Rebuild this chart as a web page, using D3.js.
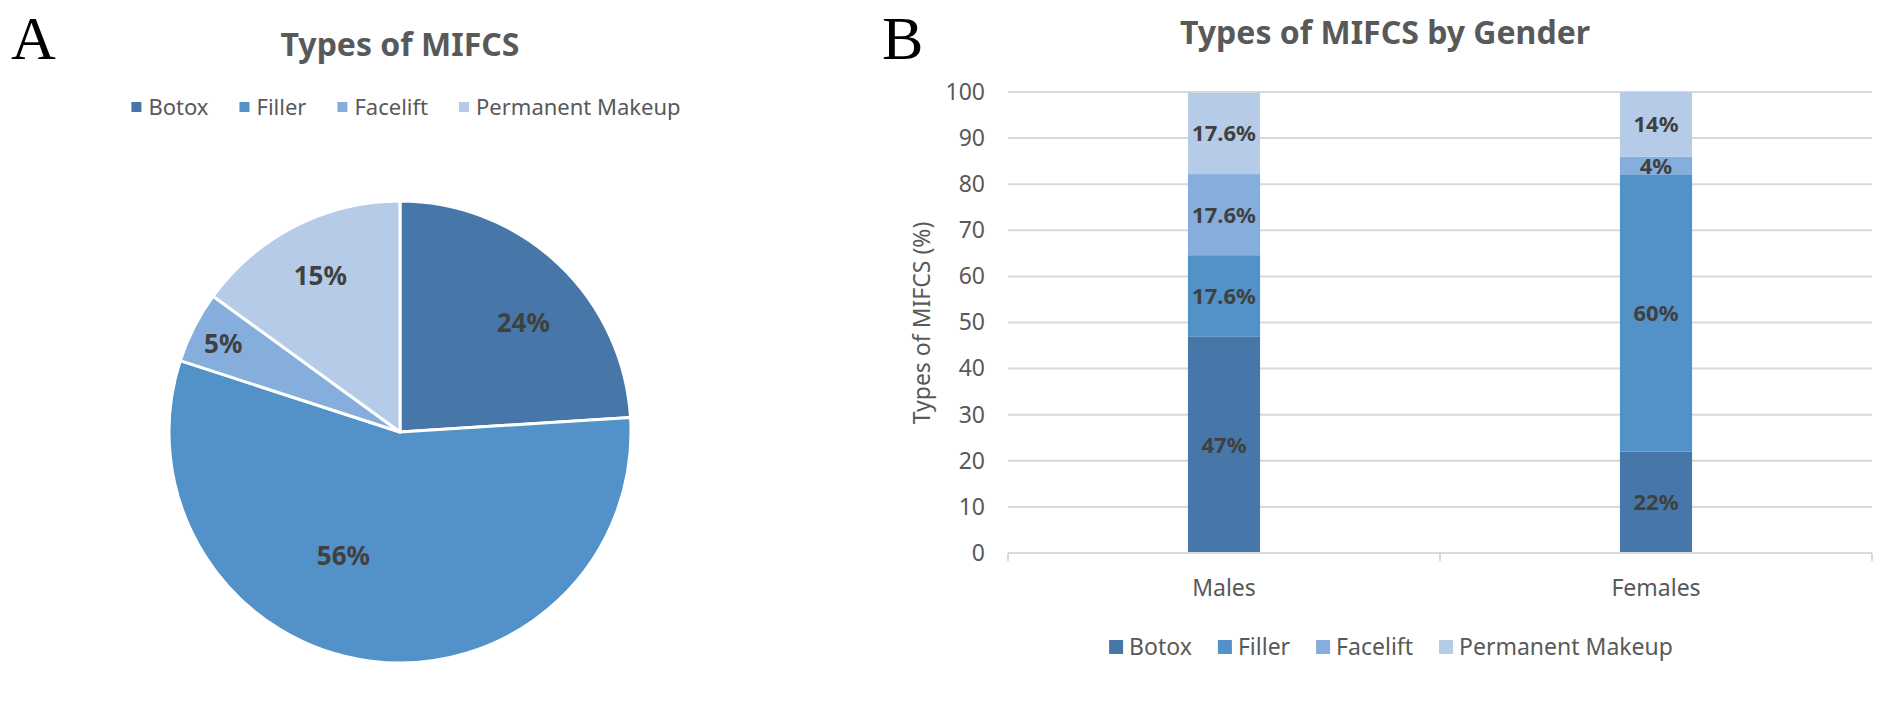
<!DOCTYPE html>
<html>
<head>
<meta charset="utf-8">
<script src="https://cdn.jsdelivr.net/npm/d3@7/dist/d3.min.js"></script>
<style>
  html, body { margin: 0; padding: 0; background: #fff; }
  svg { display: block; }
  text { font-family: "Noto Sans", "Open Sans", sans-serif; }
</style>
</head>
<body>
<script>
// ---------------- DATA ----------------
const types = ["Botox", "Filler", "Facelift", "Permanent Makeup"];
const overallPct = [24, 56, 5, 15];
const overallLabels = ["24%", "56%", "5%", "15%"];
const genders = ["Males", "Females"];
const malesPct = [47, 17.6, 17.6, 17.6];
const femalesPct = [22, 60, 4, 14];
const malesLabels = ["47%", "17.6%", "17.6%", "17.6%"];
const femalesLabels = ["22%", "60%", "4%", "14%"];
const yTicks = [0, 10, 20, 30, 40, 50, 60, 70, 80, 90, 100];
const pieTitle = "Types of MIFCS";
const barTitle = "Types of MIFCS by Gender";
const yAxisTitle = "Types of MIFCS (%)";

(function () {
// ---------------- STYLE ----------------
const colors = ["#4677a8", "#5391c9", "#85aedd", "#b6cbe8"];
const W = 1902, H = 704;
const titleColor = "#595959";
const labelColor = "#404040";
const gridColor = "#d9d9d9";

const svg = d3.select("body").append("svg").attr("width", W).attr("height", H);
svg.append("rect").attr("width", W).attr("height", H).attr("fill", "#fff");

// Panel letters
svg.append("text").attr("x", 11).attr("y", 59).text("A")
  .style("font-family", "'Liberation Serif', 'DejaVu Serif', serif").style("font-size", "62px").attr("fill", "#000");
svg.append("text").attr("x", 882).attr("y", 59).text("B")
  .style("font-family", "'Liberation Serif', 'DejaVu Serif', serif").style("font-size", "62px").attr("fill", "#000");

// Legend helper
function legend(g, cx, cy, sq, fontSize, gapText, gapItem) {
  const items = g.selectAll("g.item").data(types).join("g").attr("class", "item");
  items.append("rect").attr("width", sq).attr("height", sq).attr("y", -sq / 2)
    .attr("fill", (d, i) => colors[i]);
  const txt = items.append("text").attr("x", sq + gapText).attr("dy", "0.35em")
    .style("font-size", fontSize + "px").attr("fill", titleColor).text(d => d);
  let x = 0;
  const offs = [];
  txt.each(function () {
    offs.push(x);
    x += sq + gapText + this.getComputedTextLength() + gapItem;
  });
  const total = x - gapItem;
  items.attr("transform", (d, i) => `translate(${cx - total / 2 + offs[i]},${cy})`);
}

// ---------------- PIE (A) ----------------
const pieCx = 400, pieCy = 432, pieR = 231;
svg.append("text").attr("x", pieCx).attr("y", 56).attr("text-anchor", "middle")
  .style("font-size", "32px").style("font-weight", "bold").attr("fill", titleColor).text(pieTitle);

legend(svg.append("g"), 406, 107, 10, 22, 7, 31);

const pieData = d3.pie().sort(null).value(d => d)(overallPct);
const arc = d3.arc().innerRadius(0).outerRadius(pieR);
const pg = svg.append("g").attr("transform", `translate(${pieCx},${pieCy})`);
pg.selectAll("path").data(pieData).join("path")
  .attr("d", arc).attr("fill", (d, i) => colors[i])
  .attr("stroke", "#fff").attr("stroke-width", 3).attr("stroke-linejoin", "round");

// label placement within each slice: [fraction of slice angle, fraction of radius]
const labelPlace = [[0.56, 0.714], [0.586, 0.59], [0.47, 0.855], [0.5, 0.76]];
pg.selectAll("text.pl").data(pieData).join("text").attr("class", "pl")
  .attr("transform", (d, i) => {
    const a = d.startAngle + labelPlace[i][0] * (d.endAngle - d.startAngle);
    const r = labelPlace[i][1] * pieR;
    return `translate(${r * Math.sin(a)},${-r * Math.cos(a)})`;
  })
  .attr("text-anchor", "middle").attr("dy", "0.36em")
  .style("font-size", "26px").style("font-weight", "bold").attr("fill", labelColor)
  .text((d, i) => overallLabels[i]);

// ---------------- STACKED BAR (B) ----------------
const pLeft = 1008, pRight = 1872, pTop = 92, pBottom = 553;
svg.append("text").attr("x", 1385).attr("y", 44).attr("text-anchor", "middle")
  .style("font-size", "32px").style("font-weight", "bold").attr("fill", titleColor).text(barTitle);

const y = d3.scaleLinear().domain([0, 100]).range([pBottom, pTop]);
const xCat = d3.scaleBand().domain(genders).range([pLeft, pRight]).padding(0);
const x = d3.scaleBand().domain(genders).range([pLeft, pRight]).paddingInner(0.833).paddingOuter(0.4165);

// gridlines
const gg = svg.append("g");
gg.selectAll("line").data(yTicks.filter(t => t > 0)).join("line")
  .attr("x1", pLeft).attr("x2", pRight).attr("y1", d => y(d)).attr("y2", d => y(d))
  .attr("stroke", gridColor).attr("stroke-width", 2);

// y axis labels
const yAxis = d3.axisLeft(y).tickValues(yTicks).tickSize(0).tickPadding(0);
const ya = svg.append("g").attr("transform", `translate(${pLeft - 23},0)`).call(yAxis);
ya.select(".domain").remove();
ya.selectAll("text").style("font-size", "23px").style("font-family", "'Noto Sans', sans-serif").attr("fill", titleColor);

// y title
svg.append("text").attr("transform", `translate(930,323) rotate(-90)`).attr("text-anchor", "middle")
  .style("font-size", "23px").attr("fill", titleColor).text(yAxisTitle);

// stacked bars
const table = genders.map((g, gi) => {
  const row = { gender: g };
  types.forEach((t, ti) => row[t] = (gi === 0 ? malesPct : femalesPct)[ti]);
  return row;
});
const labelsByGender = [malesLabels, femalesLabels];
const stack = d3.stack().keys(types)(table);
const bg = svg.append("g");
stack.forEach((layer, li) => {
  bg.selectAll(null).data(layer).join("rect")
    .attr("x", d => x(d.data.gender)).attr("width", x.bandwidth())
    .attr("y", d => y(d[1])).attr("height", d => y(d[0]) - y(d[1]))
    .attr("fill", colors[li]);
});
stack.forEach((layer, li) => {
  bg.selectAll(null).data(layer).join("text")
    .attr("x", d => x(d.data.gender) + x.bandwidth() / 2)
    .attr("y", d => y((d[0] + d[1]) / 2)).attr("dy", "0.36em")
    .attr("text-anchor", "middle").style("font-size", "22px").style("font-weight", "bold")
    .attr("fill", labelColor)
    .text(d => labelsByGender[genders.indexOf(d.data.gender)][li]);
});

// x axis
const xAxis = d3.axisBottom(xCat).tickSize(0).tickPadding(0);
const xa = svg.append("g").attr("transform", `translate(0,${pBottom})`).call(xAxis);
xa.select(".domain").remove();
xa.selectAll("text").attr("dy", "0.36em").attr("y", 35)
  .style("font-size", "23px").style("font-family", "'Noto Sans', sans-serif").attr("fill", titleColor);
svg.append("line").attr("x1", pLeft).attr("x2", pRight).attr("y1", pBottom).attr("y2", pBottom)
  .attr("stroke", gridColor).attr("stroke-width", 2);
const bounds = [pLeft].concat(genders.map(g => xCat(g) + xCat.bandwidth()));
svg.selectAll("line.xt").data(bounds).join("line").attr("class", "xt")
  .attr("x1", d => d).attr("x2", d => d).attr("y1", pBottom).attr("y2", pBottom + 8)
  .attr("stroke", gridColor).attr("stroke-width", 2);

legend(svg.append("g"), 1391, 647, 14, 23, 6, 26);
})();
</script>
</body>
</html>
